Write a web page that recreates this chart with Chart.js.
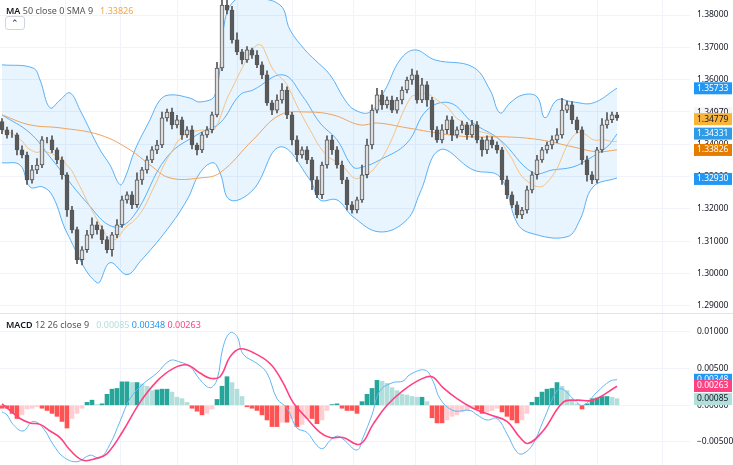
<!DOCTYPE html>
<html><head><meta charset="utf-8">
<script src="https://cdn.jsdelivr.net/npm/chart.js@4.4.0/dist/chart.umd.min.js"></script>
<style>
html,body{margin:0;padding:0;background:#fff;font-family:"Noto Sans",Roboto,sans-serif;}
#wrap{position:relative;width:733px;height:465px;overflow:hidden}
#c1{position:absolute;left:0;top:0}
#c2{position:absolute;left:0;top:314px}
#sep{position:absolute;left:0;top:313px;width:733px;height:1px;background:#e0e3eb}
.lg{position:absolute;left:6px;font-size:9px;color:#131722;white-space:nowrap}
.lg b{font-weight:600}
.btn{position:absolute;left:5px;top:16px;width:18px;height:12px;border:1px solid #d1d4dc;border-radius:3px;font-size:9px;line-height:12px;text-align:center;color:#131722;background:#fff}
</style></head><body>
<div id="wrap">
<canvas id="c1" width="733" height="313"></canvas>
<div id="sep"></div>
<canvas id="c2" width="733" height="151"></canvas>
<div class="lg" style="top:4px"><b>MA</b> <span style="color:#555">50 close 0 SMA 9</span> &nbsp;&nbsp;<span style="color:#f7a541">1.33826</span></div>
<div class="btn">&#8963;</div>
<div class="lg" style="top:318px"><b>MACD</b> <span style="color:#555">12 26 close 9</span> &nbsp;&nbsp;<span style="color:#b2dfdb">0.00085</span> <span style="color:#2196f3">0.00348</span> <span style="color:#ff4081">0.00263</span></div>
</div>
<script>
// ---- price data (estimated) ----
const closes=[1.3445,1.3429,1.3429,1.3383,1.3367,1.3290,1.3321,1.3336,1.3414,1.3414,1.3383,1.3352,1.3306,1.3197,1.3136,1.3043,1.3074,1.3120,1.3151,1.3136,1.3105,1.3074,1.3120,1.3151,1.3228,1.3244,1.3213,1.3290,1.3321,1.3352,1.3383,1.3398,1.3482,1.3500,1.3460,1.3476,1.3429,1.3445,1.3398,1.3383,1.3429,1.3445,1.3491,1.3636,1.3831,1.3815,1.3723,1.3686,1.3661,1.3692,1.3676,1.3646,1.3615,1.3528,1.3506,1.3537,1.3568,1.3491,1.3414,1.3367,1.3383,1.3352,1.3290,1.3244,1.3336,1.3414,1.3383,1.3336,1.3290,1.3213,1.3197,1.3228,1.3306,1.3398,1.3506,1.3553,1.3522,1.3537,1.3506,1.3537,1.3568,1.3599,1.3615,1.3537,1.3584,1.3537,1.3445,1.3414,1.3445,1.3476,1.3429,1.3445,1.3460,1.3429,1.3460,1.3414,1.3383,1.3414,1.3398,1.3383,1.3290,1.3244,1.3213,1.3182,1.3197,1.3259,1.3306,1.3352,1.3383,1.3398,1.3414,1.3429,1.3506,1.3522,1.3476,1.3445,1.3352,1.3306,1.3290,1.3383,1.3460,1.3476,1.3491,1.3482];
const firstOpen=1.3470;
const wickUp=[10,8,15,6,12,9,14,20,10,8,12,6,9,7,11,8,10,14,22,9,12,10,8,16,12,9,10,22,8,12,10,14,18,9,12,14,8,10,12,6,8,10,9,18,20,14,12,22,8,10,6,14,9,12,8,16,20,10,8,12,9,10,8,10,9,12,14,10,12,8,10,9,30,18,16,20,14,10,12,8,10,9,18,12,20,10,8,10,16,12,10,9,12,8,14,10,8,12,9,10,8,12,9,10,8,12,10,14,8,9,12,20,36,12,10,8,9,12,10,8,20,22,9,8];
const wickDn=[12,10,8,16,9,14,10,12,8,10,9,12,14,20,10,12,16,8,10,14,12,10,20,9,8,10,12,8,14,10,9,12,8,10,12,9,14,8,12,16,9,8,10,6,8,12,10,9,12,8,10,9,12,8,14,9,10,12,16,20,10,12,30,9,12,10,14,10,12,16,10,9,8,10,12,9,14,10,8,10,12,9,14,10,8,20,22,8,10,12,18,9,10,14,8,10,20,12,9,10,14,12,9,10,12,10,9,14,8,10,12,9,10,8,12,10,14,20,12,9,8,10,9,8];
// Bollinger bands (sampled: bar index, price)
const bbUpIdx=[0,6.2,7.6,9.6,11.6,13.6,15.6,19.6,21.6,23.6,24.6,26.6,29.6,31.6,33.6,37.6,39.6,42.6,44.6,46.6,49.6,55.6,57.6,60.6,62.6,65.6,68.6,70.6,73.6,76.6,79.6,82.6,86.6,94.2,97.6,99.6,101.6,104.2,107,108.6,111,114.2,118.2,123];
const bbUpVal=[1.3646,1.3636,1.3599,1.3513,1.3537,1.3559,1.3506,1.3383,1.3336,1.3275,1.3296,1.3383,1.3476,1.3537,1.3553,1.3543,1.3531,1.3553,1.3785,1.3846,1.3853,1.3831,1.3754,1.3692,1.3661,1.3615,1.3537,1.3506,1.3500,1.3568,1.3661,1.3692,1.3661,1.3639,1.3568,1.3497,1.3528,1.3553,1.3547,1.3482,1.3537,1.3531,1.3528,1.3574];
const bbMidIdx=[0,5.6,9.6,17,22.2,26.2,33,39.6,43.6,47.6,50.2,56.2,60.2,63.6,67,70.2,72.2,75.6,81,85,89.6,94.2,99.6,106.2,110.2,114.2,117,121,123];
const bbMidVal=[1.3491,1.3435,1.3361,1.3219,1.3145,1.3176,1.3361,1.3435,1.3466,1.3553,1.3568,1.3615,1.3547,1.3466,1.3414,1.3330,1.3330,1.3352,1.3404,1.3506,1.3528,1.3466,1.3414,1.3312,1.3321,1.3330,1.3352,1.3392,1.3432];
const bbLoIdx=[0,3.6,5.6,8.2,10.2,13,19,21.6,25,27.6,33,37,39.6,42.2,43.6,45.6,50.2,55.6,61.6,63.6,67,70.2,75.6,81,83.6,87.6,94.2,99.6,103,105.6,113,115.6,118.2,123];
const bbLoVal=[1.3343,1.3336,1.3268,1.3268,1.3238,1.3126,1.2972,1.3034,1.2997,1.3037,1.3136,1.3228,1.3312,1.3343,1.3312,1.3228,1.3259,1.3392,1.3290,1.3228,1.3228,1.3176,1.3129,1.3167,1.3250,1.3383,1.3321,1.3299,1.3157,1.3126,1.3114,1.3167,1.3268,1.3296];
const sma50Idx=[0,5.6,11.6,19.6,25.6,29.6,33.6,39.6,43.6,50.2,55.6,61,66.2,71.6,75,81,89.6,94.2,101,107.6,114.2,119,123];
const sma50Val=[1.3491,1.3460,1.3451,1.3429,1.3383,1.3336,1.3296,1.3296,1.3312,1.3414,1.3491,1.3500,1.3491,1.3460,1.3466,1.3451,1.3429,1.3423,1.3423,1.3414,1.3392,1.3377,1.3383];
const priceTicks=[1.38,1.37,1.36,1.35,1.34,1.33,1.32,1.31,1.30,1.29];
// ---- MACD data (units of 0.0001) ----
const hist=[-4,-4,-11,-18,-13,-5,-4,-2,-4,-7,-11,-15,-22,-31,-18,-11,-4,4,7,1,2,15,22,23,32,32,31,31,29,26,20,21,22,22,18,11,9,4,-4,-8,-13,-11,-5,8,26,39,31,22,12,-2,-4,-7,-13,-20,-29,-29,-23,-23,-18,-29,-26,-18,-18,-25,-20,-7,1,2,-4,-7,-7,-11,5,15,23,34,33,30,24,20,15,14,12,11,11,5,-17,-24,-24,-20,-15,-13,-9,-7,-4,-5,-11,-9,-7,-4,-9,-15,-20,-24,-20,-11,4,11,18,22,23,31,26,20,7,2,-5,2,9,10,12,12,11,9];
const macdIdx=[0,1,2.2,4.2,6.2,8.2,10.2,12.2,15,17.6,19.6,21.6,23.6,25.6,28.2,31,33.6,35.6,37.6,39.6,41.6,43,44.2,45.6,47,48.2,51,53,55,57,59,61,63,64.2,65.6,67,68.2,71,72.2,74,75.6,78.2,80.2,81.6,84.6,86.2,87.6,90.2,93.6,95,97,99,101,103,104.2,106.2,108.2,111,112.2,114.2,116.2,119,121.6,123];
const macdVal=[-9,-13,-26,-35,-22,-31,-53,-70,-77,-68,-72,-53,-22,9,29,44,61,59,53,35,24,35,79,99,94,70,57,44,9,-4,-31,-37,-55,-59,-48,-42,-46,-61,-44,-13,20,31,33,42,48,33,9,-7,-7,-13,-20,-18,-39,-64,-66,-53,-22,20,22,9,0,18,33,35];
const sigIdx=[0,1.6,3.6,5.6,7.6,9.6,11.6,13.6,16.2,19,21,24.2,27.6,31,34.2,37,39.6,41.6,43.6,45.6,47.6,50.2,53.6,56.2,58.2,61,63.6,65.6,68.2,71.6,74.2,77,80.2,83.6,86,88.2,91,94.2,97.6,101,103.6,105.2,108.2,112.2,115,118.2,123];
const sigVal=[2,-7,-18,-24,-26,-35,-44,-61,-75,-72,-66,-35,4,33,50,55,44,37,39,66,77,72,57,31,4,-18,-37,-44,-44,-53,-26,0,20,35,39,24,9,-4,-13,-22,-44,-52,-35,4,7,7,26];
const macdTicks=[0.01,0.005,0,-0.005];
const gridIdx=[12.6,23.6,35,47,58,70.2,82.6,94.6,106.6,119,132];
const lastLabels={up:1.35733,high:1.34970,close:1.34779,mid:1.34331,sma:1.33826,lo:1.32930};

const N=closes.length;
const opens=closes.map((c,i)=>i===0?firstOpen:closes[i-1]);
const highs=closes.map((c,i)=>Math.max(c,opens[i])+wickUp[i]*0.0001);
const lows=closes.map((c,i)=>Math.min(c,opens[i])-wickDn[i]*0.0001);
const sma9=closes.map((c,i)=>{const s=closes.slice(Math.max(0,i-8),i+1);return s.reduce((a,b)=>a+b,0)/s.length;});
const pts=(ix,v,k=1)=>ix.map((x,i)=>({x:x,y:v[i]*k}));
const XMIN=-0.4,XMAX=137.6;

function vgrid(){return {id:'vg',beforeDatasetsDraw(ch){const {ctx,chartArea:a}=ch;const xs=ch.scales.x;ctx.save();ctx.strokeStyle='#f0f3fa';ctx.lineWidth=1;gridIdx.forEach(g=>{const px=Math.round(xs.getPixelForValue(g))+0.5;ctx.beginPath();ctx.moveTo(px,a.top);ctx.lineTo(px,a.bottom);ctx.stroke();});ctx.restore();}};}
function tags(ticks,fmt,list){return {id:'tags',afterDraw(ch){const {ctx}=ch;const ys=ch.scales.y;ctx.save();ctx.font='8.5px "Noto Sans",sans-serif';ctx.textBaseline='middle';
  ctx.fillStyle='#131722';ticks.forEach(v=>{ctx.fillText(fmt(v),697,ys.getPixelForValue(v));});
  list.forEach(t=>{const py=ys.getPixelForValue(t.v);ctx.fillStyle=t.bg;ctx.fillRect(694,py-6,38,12);ctx.fillStyle=t.fg;ctx.fillText(t.txt,697,py);});ctx.restore();}};}
const yAxisCommon=(min,max,ticks)=>({position:'right',min:min,max:max,afterFit(s){s.width=43;},
  afterBuildTicks(s){s.ticks=ticks.map(v=>({value:v}));},
  grid:{color:'#f0f3fa',drawTicks:false},border:{display:false},
  ticks:{display:false}});

new Chart(document.getElementById('c1'),{
  data:{datasets:[
    {type:'line',data:pts(bbUpIdx,bbUpVal),borderColor:'rgba(66,165,245,0.85)',borderWidth:1,pointRadius:0,tension:0.4,fill:'+1',backgroundColor:'rgba(33,150,243,0.1)',order:5},
    {type:'line',data:pts(bbLoIdx,bbLoVal),borderColor:'rgba(66,165,245,0.85)',borderWidth:1,pointRadius:0,tension:0.4,fill:false,order:5},
    {type:'line',data:pts(bbMidIdx,bbMidVal),borderColor:'rgba(66,165,245,0.85)',borderWidth:1,pointRadius:0,tension:0.4,fill:false,order:4},
    {type:'line',data:pts(sma50Idx,sma50Val),borderColor:'#f0a35a',borderWidth:1,pointRadius:0,tension:0.4,fill:false,order:3},
    {type:'line',data:sma9.map((v,i)=>({x:i,y:v})),borderColor:'rgba(245,190,120,0.9)',borderWidth:1,pointRadius:0,tension:0.3,fill:false,order:3},
    {type:'bar',data:closes.map((c,i)=>({x:i,y:[lows[i],highs[i]]})),backgroundColor:'#555',barThickness:1,grouped:false,order:2},
    {type:'bar',data:closes.map((c,i)=>({x:i,y:[opens[i],c]})),backgroundColor:closes.map((c,i)=>c>=opens[i]?'#dcdcdc':'#5a5a5a'),borderColor:'#555',borderWidth:1,borderSkipped:false,barThickness:4,grouped:false,order:1}
  ]},
  options:{animation:false,responsive:false,layout:{padding:0},
    plugins:{legend:{display:false},tooltip:{enabled:false}},
    scales:{x:{type:'linear',offset:false,min:XMIN,max:XMAX,display:false},
      y:yAxisCommon(1.28783,1.38464,priceTicks)}},
  plugins:[vgrid(),tags(priceTicks,v=>v.toFixed(5),[
    {v:lastLabels.up,txt:'1.35733',bg:'#2196f3',fg:'#fff'},
    {v:lastLabels.high,txt:'1.34970',bg:'#f5f5f5',fg:'#131722'},
    {v:lastLabels.close,txt:'1.34779',bg:'#f9b43a',fg:'#131722'},
    {v:lastLabels.mid,txt:'1.34331',bg:'#2f9be6',fg:'#fff'},
    {v:lastLabels.sma,txt:'1.33826',bg:'#e57c00',fg:'#fff'},
    {v:lastLabels.lo,txt:'1.32930',bg:'#2196f3',fg:'#fff'}])]
});

const hcol=hist.map((h,i)=>{const p=i>0?hist[i-1]:h;if(h>=0)return h>=p?'#26a69a':'#b2dfdb';return h<=p?'#ff5252':'#ffcdd2';});
new Chart(document.getElementById('c2'),{
  data:{datasets:[
    {type:'line',data:pts(macdIdx,macdVal,0.0001),borderColor:'#64b5f6',borderWidth:1,pointRadius:0,tension:0.4,fill:false,order:2},
    {type:'line',data:pts(sigIdx,sigVal,0.0001),borderColor:'#ff4081',borderWidth:1.6,pointRadius:0,tension:0.4,fill:false,order:1},
    {type:'bar',data:hist.map((h,i)=>({x:i,y:h*0.0001})),backgroundColor:hcol,barThickness:4,grouped:false,order:3}
  ]},
  options:{animation:false,responsive:false,layout:{padding:0},
    plugins:{legend:{display:false},tooltip:{enabled:false}},
    scales:{x:{type:'linear',offset:false,min:XMIN,max:XMAX,display:false},
      y:yAxisCommon(-0.00814,0.01245,macdTicks)}},
  plugins:[vgrid(),tags(macdTicks,v=>v.toFixed(5).replace('-','\u2212'),[
    {v:0.00348,txt:'0.00348',bg:'#2196f3',fg:'#fff'},
    {v:0.00263,txt:'0.00263',bg:'#ff4081',fg:'#fff'},
    {v:0.00085,txt:'0.00085',bg:'#b2dfdb',fg:'#131722'}])]
});
</script>
</body></html>
